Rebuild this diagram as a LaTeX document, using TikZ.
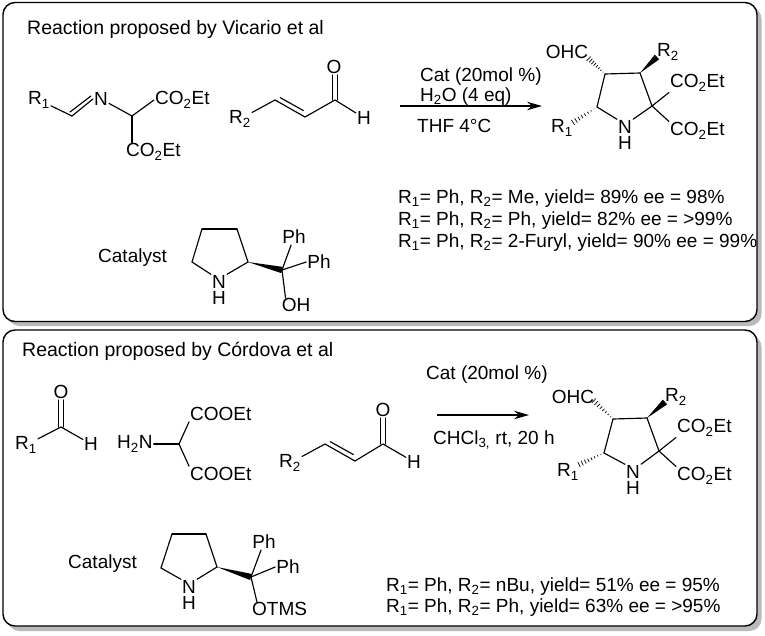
\documentclass[tikz,border=0pt]{standalone}
\usepackage{fontspec}
\setmainfont{Liberation Sans}
\usetikzlibrary{arrows.meta}
\usetikzlibrary{calc}

\newcommand{\sbs}[1]{\textsubscript{#1}}
\newcommand{\wedgebond}[2]{\fill ($(#1)$) -- ($(#2)!3.2pt!90:(#1)$) -- ($(#2)!3.2pt!-90:(#1)$) -- cycle;}
\newcommand{\hashbond}[2]{\foreach \t in {0.12,0.24,...,1.0} {\draw[line width=0.7pt] ($(#1)!\t!(#2)!\t*3pt!90:(#2)$) -- ($(#1)!\t!(#2)!\t*3pt!-90:(#2)$);}}

\tikzset{
	txt/.style={font=\fontsize{19}{19}\selectfont, inner sep=0pt, anchor=base west},
	atom/.style={font=\fontsize{19}{19}\selectfont, inner sep=1pt},
	amine/.style={atom, align=center, font=\fontsize{19}{16}\selectfont},
	bond/.style={line width=1.15pt, line cap=round},
	panel/.style={draw=black, line width=1.4pt, fill=white, rounded corners=12pt},
	panelshade/.style={fill=black!27, rounded corners=12pt},
	rxn/.style={line width=1.3pt, -{Stealth[length=15pt,width=8.5pt]}}
}

\begin{document}
\begin{tikzpicture}[x=1pt,y=-1pt]
	\useasboundingbox (0,0) rectangle (765,635);
	% panels
	\fill[panelshade] (7.5,7) rectangle (761.5,326);
	\draw[panel] (3,2.5) rectangle (757,321.5);
	\fill[panelshade] (7.5,335) rectangle (761.5,631);
	\draw[panel] (3,330) rectangle (757,626);

	% upper panel, texts
	\node[txt, font=\fontsize{19.5}{19.5}\selectfont] (titleA) at (27,34) {Reaction proposed by Vicario et al};
	\node[txt] (catA) at (420,81) {Cat (20mol \%)};
	\node[txt] (waterA) at (420,101) {H\sbs{2}O (4 eq)};
	\node[txt] (solvA) at (417,132) {THF 4°C};
	\node[txt] (yieldAa) at (398,203) {R\sbs{1}= Ph, R\sbs{2}= Me, yield= 89\% ee = 98\%};
	\node[txt] (yieldAb) at (398,225) {R\sbs{1}= Ph, R\sbs{2}= Ph, yield= 82\% ee = >99\%};
	\node[txt] (yieldAc) at (398,247) {R\sbs{1}= Ph, R\sbs{2}= 2-Furyl, yield= 90\% ee = 99\%};
	\node[txt] (catlabA) at (98,262) {Catalyst};

	% imine
	\node[atom] (iR) at (39,100) {R\sbs{1}};
	\node[atom] (iN) at (101,99) {N};
	\node[atom, anchor=west] (iEa) at (154,100) {CO\sbs{2}Et};
	\node[atom, anchor=west] (iEb) at (125,152) {CO\sbs{2}Et};
	\coordinate (ia) at (72,116);
	\coordinate (ib) at (132,116);
	\path[bond]
	(iR) edge (ia)
	(iN) edge (ib)
	(ib) edge (iEa.west)
	(ib) edge (ib |- iEb.north)
	;
	\draw[bond] (ia) -- (iN.west);
	\draw[bond] ($(ia)+(-2,-4)$) -- ($(iN.west)+(-2,-3)$);

	% enal
	\node[atom] (eR) at (240,119) {R\sbs{2}};
	\node[atom] (eO) at (334,67) {O};
	\node[atom] (eH) at (364,118) {H};
	\coordinate (ea) at (275,100);
	\coordinate (eb) at (305,117);
	\coordinate (ec) at (335,100);
	\path[bond]
	(eR) edge (ea)
	(ea) edge (eb)
	(eb) edge (ec)
	(ec) edge (eH)
	;
	\draw[bond] ($(ea)!0.12!(eb)+(1.6,-4.4)$) -- ($(ea)!0.88!(eb)+(2,-4.4)$);
	\draw[bond] ($(ec)+(-2.4,0)$) -- ($(eO.south)+(-1.4,0)$);
	\draw[bond] ($(ec)+(2.4,0)$) -- ($(eO.south)+(3.4,0)$);

	% arrow
	\coordinate (arA) at (400,106);
	\coordinate (arB) at (542,106);
	\draw[rxn] (arA) -- (arB);

	% product
	\node[atom] (pOHC) at (567,52) {OHC};
	\node[atom] (pR) at (668,52) {R\sbs{2}};
	\node[atom, anchor=west] (pEa) at (669,83) {CO\sbs{2}Et};
	\node[atom, anchor=west] (pEb) at (669,131) {CO\sbs{2}Et};
	\node[amine] (pN) at (625,135) {N\\H};
	\node[atom] (pRb) at (562,128) {R\sbs{1}};
	\coordinate (pa) at (605,74);
	\coordinate (pb) at (640,73);
	\coordinate (pc) at (652,106);
	\coordinate (pd) at (597,107);
	\coordinate (pw) at (657,57);
	\coordinate (ph) at (588,58);
	\coordinate (pk) at (572,123);
	\path[bond]
	(pa) edge (pb)
	(pb) edge (pc)
	(pc) edge (pN.north east)
	(pd) edge (pN.north west)
	(pd) edge (pa)
	(pc) edge (pEa.south west)
	(pc) edge (pEb.north west)
	;
	\wedgebond{pb}{pw}
	\hashbond{pa}{ph}
	\hashbond{pd}{pk}

	% catalyst
	\node[amine] (cN) at (219,290) {N\\H};
	\node[atom] (cPa) at (294,237) {Ph};
	\node[atom] (cPb) at (319,262) {Ph};
	\node[atom] (cOH) at (296,305) {OH};
	\coordinate (ca) at (202,229);
	\coordinate (cb) at (237,229);
	\coordinate (cc) at (248,262);
	\coordinate (cd) at (192,262);
	\coordinate (ce) at (282,270);
	\path[bond]
	(cd) edge (ca)
	(ca) edge (cb)
	(cb) edge (cc)
	(cc) edge (cN.north east)
	(cd) edge (cN.north west)
	(ce) edge (cPa)
	(ce) edge (cPb.west)
	(ce) edge ($(cOH.north west)+(5,1)$)
	;
	\wedgebond{cc}{ce}

	% lower panel, texts
	\node[txt, font=\fontsize{19.5}{19.5}\selectfont] (titleB) at (22,356) {Reaction proposed by Córdova et al};
	\node[txt] (catB) at (426,379) {Cat (20mol \%)};
	\node[txt] (solvB) at (433,444) {CHCl\sbs{3,} rt, 20 h};
	\node[txt] (yieldBa) at (386,591) {R\sbs{1}= Ph, R\sbs{2}= nBu, yield= 51\% ee = 95\%};
	\node[txt] (yieldBb) at (386,612) {R\sbs{1}= Ph, R\sbs{2}= Ph, yield= 63\% ee = >95\%};
	\node[txt] (catlabB) at (68,568) {Catalyst};

	% aldehyde
	\node[atom] (aR) at (26,445) {R\sbs{1}};
	\node[atom] (aO) at (61,392) {O};
	\node[atom] (aH) at (91,444) {H};
	\coordinate (aa) at (61,427);
	\path[bond]
	(aR) edge (aa)
	(aa) edge (aH)
	;
	\draw[bond] ($(aa)+(-2.4,0)$) -- ($(aO.south)+(-2.4,0)$);
	\draw[bond] ($(aa)+(2.4,0)$) -- ($(aO.south)+(2.4,0)$);

	% aminomalonate
	\node[atom, anchor=west] (mN) at (116,444) {H\sbs{2}N};
	\node[atom, anchor=west] (mEa) at (189,414) {COOEt};
	\node[atom, anchor=west] (mEb) at (189,474) {COOEt};
	\coordinate (ma) at (179,444);
	\path[bond]
	(mN) edge (ma)
	(ma) edge (mEa.south west)
	(ma) edge (mEb.north west)
	;

	% enal
	\node[atom] (fR) at (290,463) {R\sbs{2}};
	\node[atom] (fO) at (383,410) {O};
	\node[atom] (fH) at (414,462) {H};
	\coordinate (fa) at (325,444);
	\coordinate (fb) at (355,461);
	\coordinate (fc) at (383,444);
	\path[bond]
	(fR) edge (fa)
	(fa) edge (fb)
	(fb) edge (fc)
	(fc) edge (fH)
	;
	\draw[bond] ($(fa)!0.12!(fb)+(1.6,-4.4)$) -- ($(fa)!0.88!(fb)+(2,-4.4)$);
	\draw[bond] ($(fc)+(-2.4,0)$) -- ($(fO.south)+(-2.4,0)$);
	\draw[bond] ($(fc)+(2.4,0)$) -- ($(fO.south)+(2.4,0)$);

	% arrow
	\coordinate (brA) at (437,415);
	\coordinate (brB) at (529,415);
	\draw[rxn] (brA) -- (brB);

	% product
	\node[atom] (qOHC) at (573,397) {OHC};
	\node[atom] (qR) at (676,397) {R\sbs{2}};
	\node[atom, anchor=west] (qEa) at (676,428) {CO\sbs{2}Et};
	\node[atom, anchor=west] (qEb) at (676,476) {CO\sbs{2}Et};
	\node[amine] (qN) at (633,480) {N\\H};
	\node[atom] (qRb) at (568,472) {R\sbs{1}};
	\coordinate (qa) at (613,419);
	\coordinate (qb) at (647,418);
	\coordinate (qc) at (659,451);
	\coordinate (qd) at (604,453);
	\coordinate (qw) at (665,402);
	\coordinate (qh) at (593,400);
	\coordinate (qk) at (578,465);
	\path[bond]
	(qa) edge (qb)
	(qb) edge (qc)
	(qc) edge (qN.north east)
	(qd) edge (qN.north west)
	(qd) edge (qa)
	(qc) edge (qEa.south west)
	(qc) edge (qEb.north west)
	;
	\wedgebond{qb}{qw}
	\hashbond{qa}{qh}
	\hashbond{qd}{qk}

	% catalyst
	\node[amine] (dN) at (189,595) {N\\H};
	\node[atom] (dPa) at (264,542) {Ph};
	\node[atom] (dPb) at (288,567) {Ph};
	\node[atom, anchor=west] (dO) at (251,609) {OTMS};
	\coordinate (da) at (172,534);
	\coordinate (db) at (206,534);
	\coordinate (dc) at (217,567);
	\coordinate (dd) at (161,568);
	\coordinate (de) at (251,577);
	\path[bond]
	(dd) edge (da)
	(da) edge (db)
	(db) edge (dc)
	(dc) edge (dN.north east)
	(dd) edge (dN.north west)
	(de) edge (dPa)
	(de) edge (dPb.west)
	(de) edge ($(dO.north west)+(6,1)$)
	;
	\wedgebond{dc}{de}
\end{tikzpicture}
\end{document}
